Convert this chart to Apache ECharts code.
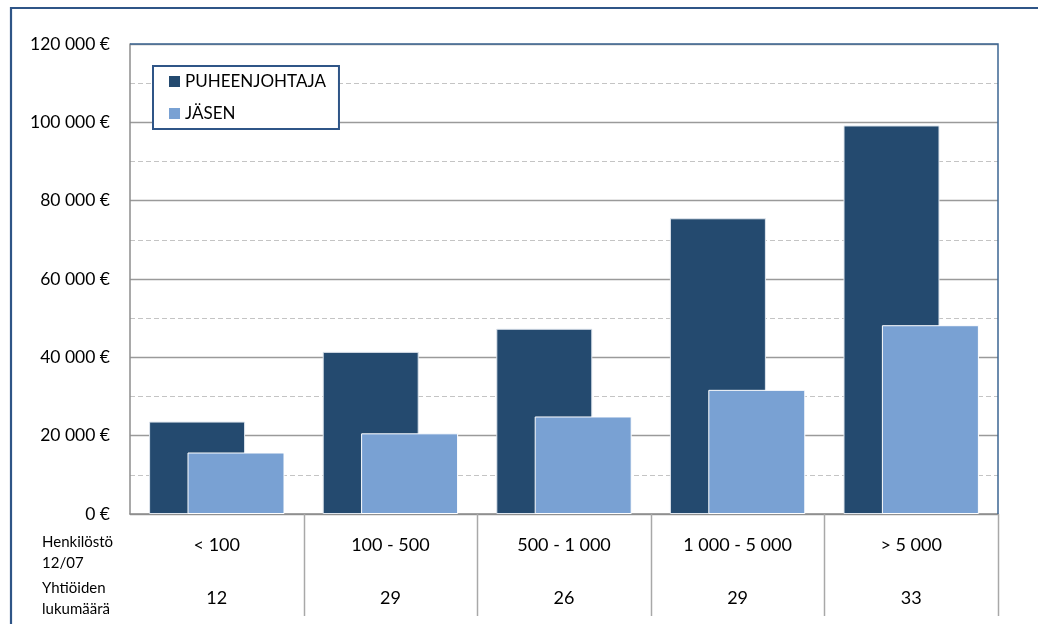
<!DOCTYPE html>
<html>
<head>
<meta charset="utf-8">
<script src="https://cdn.jsdelivr.net/npm/echarts@6/dist/echarts.min.js"></script>
<style>
  html, body { margin: 0; padding: 0; background: #ffffff; }
  #chart { width: 1038px; height: 624px; }
</style>
</head>
<body>
<div id="chart"></div>
<script>
// Henkilöstön kokoluokat ja yhtiöiden lukumäärä kussakin luokassa
const categories = ['< 100', '100 - 500', '500 - 1 000', '1 000 - 5 000', '> 5 000'];
const companyCounts = ['12', '29', '26', '29', '33'];
// Hallituksen vuosipalkkiot (€)
const chairFees = [23600, 41400, 47300, 75500, 99200];
const memberFees = [15700, 20600, 24900, 31700, 48200];
const seriesNames = ['PUHEENJOHTAJA', 'JÄSEN'];
const rowTitles = ['Henkilöstö\n12/07', 'Yhtiöiden\nlukumäärä'];

const FONT = 'Lato, "Liberation Sans", Arial, sans-serif';
const FRAME_BLUE = '#2f5587';
const AXIS_GRAY = '#8c8c8c';

function euro(v) {
  const s = String(Math.round(v)).replace(/\B(?=(\d{3})+(?!\d))/g, ' ');
  return s + ' €';
}

const chart = echarts.init(document.getElementById('chart'), null, { renderer: 'canvas' });

const option = {
  animation: false,
  backgroundColor: '#ffffff',
  textStyle: { fontFamily: FONT },
  grid: { left: 130, right: 40, top: 44, bottom: 110, containLabel: false },
  legend: {
    orient: 'vertical',
    left: 153,
    top: 66,
    padding: [7, 13, 7, 16],
    itemGap: 15,
    itemWidth: 11,
    itemHeight: 11,
    icon: 'rect',
    backgroundColor: '#ffffff',
    borderColor: FRAME_BLUE,
    borderWidth: 2,
    itemStyle: { borderWidth: 0 },
    textStyle: { fontFamily: FONT, fontSize: 17, color: '#000000' },
    data: seriesNames
  },
  xAxis: {
    type: 'category',
    data: categories,
    axisLine: { show: true, lineStyle: { color: AXIS_GRAY, width: 1.5 } },
    axisTick: { show: false },
    axisLabel: {
      margin: 5,
      interval: 0,
      color: '#000000',
      formatter: (v, i) => '{c|' + v + '}\n{n|' + companyCounts[i] + '}',
      rich: {
        c: { fontFamily: FONT, fontSize: 18, lineHeight: 53, color: '#000000' },
        n: { fontFamily: FONT, fontSize: 18, lineHeight: 53, color: '#000000' }
      }
    }
  },
  yAxis: {
    type: 'value',
    min: 0,
    max: 120000,
    interval: 20000,
    axisLine: { show: true, lineStyle: { color: AXIS_GRAY, width: 1.5 } },
    axisTick: { show: false },
    axisLabel: {
      margin: 20,
      fontFamily: FONT,
      fontSize: 17.5,
      color: '#000000',
      formatter: euro
    },
    splitLine: { show: true, lineStyle: { color: '#9a9a9a', width: 1.3 } },
    minorTick: { show: false, splitNumber: 2 },
    minorSplitLine: { show: true, lineStyle: { color: '#c4c4c4', width: 1, type: [5, 3] } }
  },
  series: [
    {
      name: seriesNames[0],
      type: 'bar',
      data: chairFees,
      barWidth: 96,
      barGap: '-60%',
      itemStyle: { color: '#244a6f', borderColor: '#dfe6ee', borderWidth: 1 }
    },
    {
      name: seriesNames[1],
      type: 'bar',
      data: memberFees,
      barWidth: 97,
      itemStyle: { color: '#79a1d3', borderColor: '#ffffff', borderWidth: 1 }
    }
  ]
};

chart.setOption(option);

// Taulukon pystyviivat, rivien otsikot ja kuvan kehykset
function drawDecorations() {
  const xc0 = chart.convertToPixel({ xAxisIndex: 0 }, 0);
  const xc1 = chart.convertToPixel({ xAxisIndex: 0 }, 1);
  const band = xc1 - xc0;
  const yZero = chart.convertToPixel({ yAxisIndex: 0 }, 0);
  const yTop = chart.convertToPixel({ yAxisIndex: 0 }, 120000);
  const xLeft = xc0 - band / 2;
  const xRight = xc0 + band * (categories.length - 0.5);

  const elements = [];
  // Kuvan ulkokehys
  elements.push({
    type: 'rect', silent: true, z: 100,
    shape: { x: 11, y: 8, width: 2000, height: 2000 },
    style: { fill: null, stroke: FRAME_BLUE, lineWidth: 2.2 }
  });
  // Kuvaaja-alueen ylä- ja oikea reuna
  elements.push({
    type: 'polyline', silent: true, z: 100,
    shape: { points: [[xLeft, yTop], [xRight, yTop], [xRight, yZero]] },
    style: { fill: null, stroke: '#3d6592', lineWidth: 1.5 }
  });
  // Taulukon sarakerajat
  for (let i = 1; i <= categories.length; i++) {
    const x = Math.round(xLeft + band * i) + 0.5;
    elements.push({
      type: 'line', silent: true, z: 100,
      shape: { x1: x, y1: yZero, x2: x, y2: yZero + 102 },
      style: { stroke: '#a8a8a8', lineWidth: 1.5 }
    });
  }
  // Rivien otsikot
  const rowCenters = [yZero + 38.5, yZero + 84.5];
  rowTitles.forEach((t, i) => {
    elements.push({
      type: 'text', silent: true, z: 100,
      x: 42, y: rowCenters[i],
      style: {
        text: t,
        fontFamily: FONT,
        fontSize: 15,
        lineHeight: 21,
        fill: '#000000',
        align: 'left',
        verticalAlign: 'middle'
      }
    });
  });
  chart.setOption({ graphic: { elements: elements } });
}

drawDecorations();
</script>
</body>
</html>
